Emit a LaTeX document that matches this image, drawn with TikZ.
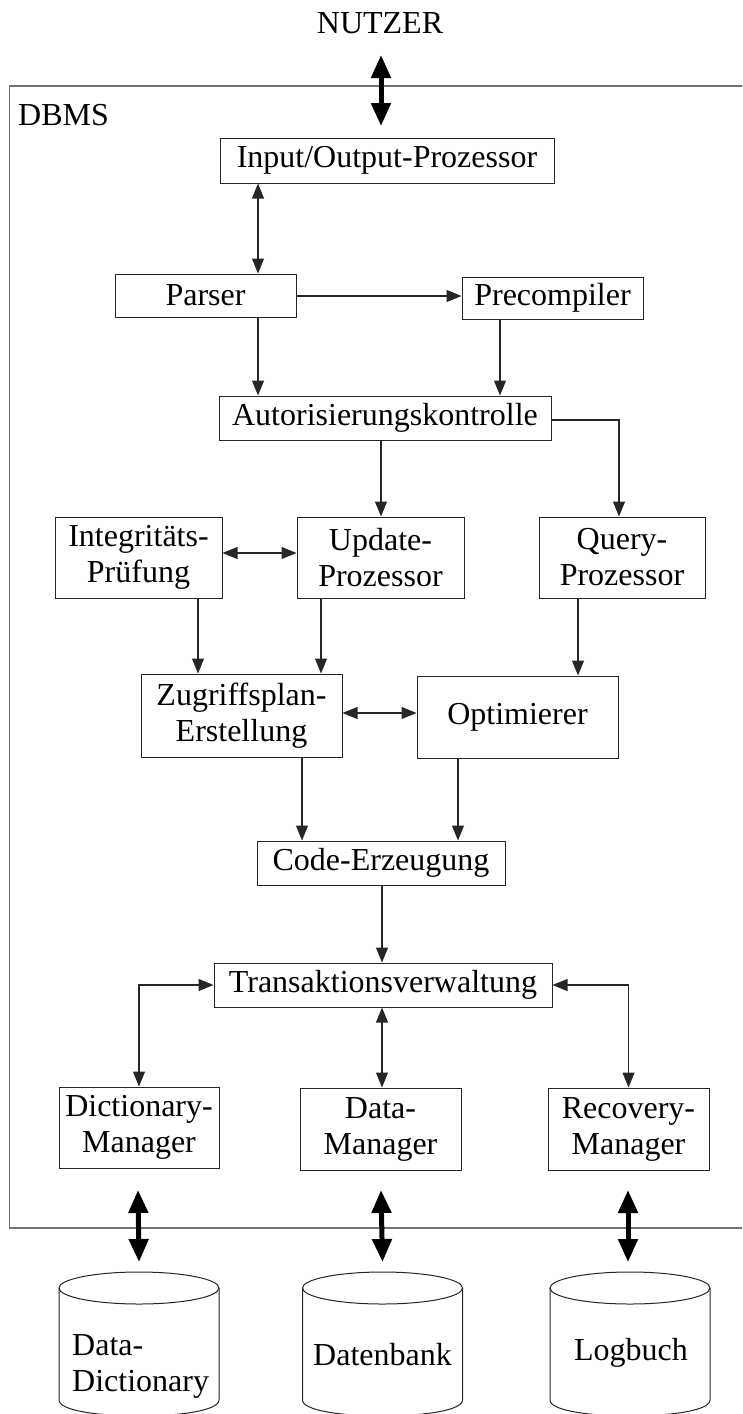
\documentclass[tikz,border=0pt]{standalone}
\usepackage{fontspec}
\setmainfont{Liberation Serif}
\usetikzlibrary{arrows.meta}
\newcommand\dbfsz{\fontsize{32}{36}\selectfont}
\begin{document}
\begin{tikzpicture}[x=1pt,y=-1pt,
  box/.style={draw=black!85,line width=1pt,rectangle,inner sep=0pt,align=center,font=\dbfsz},
  lbl/.style={inner sep=0pt,font=\dbfsz},
  arr/.style={draw=black!85,line width=1.1pt,-{Triangle[length=15pt,width=12pt]}},
  darr/.style={draw=black!85,line width=1.1pt,{Triangle[length=15pt,width=12pt]}-{Triangle[length=15pt,width=12pt]}},
  bigarr/.style={draw=black,line width=5pt,{Triangle[length=23pt,width=19pt]}-{Triangle[length=23pt,width=19pt]}},
  frame/.style={draw=black!55,line width=1.5pt},
  cyl/.style={draw=black!85,line width=1pt}
  ]
\useasboundingbox (0,0) rectangle (742,1414);

% frame
\draw[frame] (742,86) -- (9.5,86) -- (9.5,1228) -- (742,1228);
\node[lbl,anchor=west] (dbms) at (18,115) {DBMS};
\node[lbl] (nutzer) at (380,23) {NUTZER};

% boxes
\node[box,minimum width=334pt,minimum height=45pt] (io) at (387,160.5) {Input/Output-Prozessor};
\node[box,minimum width=181pt,minimum height=43pt] (parser) at (205.5,295.5) {Parser};
\node[box,minimum width=181pt,minimum height=42pt] (pre) at (552.5,298) {Precompiler};
\node[box,minimum width=332pt,minimum height=44pt] (aut) at (385,418) {Autorisierungskontrolle};
\node[box,minimum width=167pt,minimum height=81pt] (integ) at (138.5,557.5) {Integritäts-\\Prüfung};
\node[box,minimum width=167pt,minimum height=81pt] (upd) at (380.5,557.5) {Update-\\Prozessor};
\node[box,minimum width=166pt,minimum height=81pt] (query) at (622,557.5) {Query-\\Prozessor};
\node[box,minimum width=201pt,minimum height=83pt] (zug) at (241.5,715.5) {Zugriffsplan-\\Erstellung};
\node[box,minimum width=201pt,minimum height=82pt] (opt) at (517.5,717) {Optimierer};
\node[box,minimum width=248pt,minimum height=44pt] (code) at (381,863) {Code-Erzeugung};
\node[box,minimum width=338pt,minimum height=44pt] (trans) at (383,985) {Transaktionsverwaltung};
\node[box,minimum width=160pt,minimum height=81pt] (dict) at (139,1127.5) {Dictionary-\\Manager};
\node[box,minimum width=161pt,minimum height=82pt] (datam) at (380.5,1129) {Data-\\Manager};
\node[box,minimum width=161pt,minimum height=82pt] (rec) at (628.5,1129) {Recovery-\\Manager};

% cylinders
\foreach \cx/\nm in {139/cA,382.5/cB,630/cC}{
  \draw[cyl] (\cx,1288) ellipse [x radius=80, y radius=16];
  \draw[cyl] (\cx-80,1288) -- (\cx-80,1400)
     .. controls (\cx-80,1421.3) and (\cx+80,1421.3) .. (\cx+80,1400) -- (\cx+80,1288);
  \coordinate (\nm) at (\cx,1262);
}
\node[lbl,anchor=west,align=left] (ddict) at (72,1366) {Data-\\Dictionary};
\node[lbl] (dbank) at (382.5,1355) {Datenbank};
\node[lbl] (logb) at (631,1353) {Logbuch};

% thick arrows
\coordinate (nuA) at (381,55);
\coordinate (nuB) at (381,126);
\draw[bigarr] (nuA) -- (nuB);
\coordinate (dA) at (138,1190);
\coordinate (mA) at (381,1190);
\coordinate (rA) at (628,1190);
\draw[bigarr] (dA) -- (cA);
\draw[bigarr] (mA) -- (cB |- cA);
\draw[bigarr] (rA) -- (628,1262);

% connectors
\draw[darr] (258,0 |- io.south) -- (258,0 |- parser.north);
\draw[arr] (parser.east |- 0,296) -- (pre.west |- 0,296);
\draw[arr] (258,0 |- parser.south) -- (258,0 |- aut.north);
\draw[arr] (500,0 |- pre.south) -- (500,0 |- aut.north);
\draw[arr] (381,0 |- aut.south) -- (381,0 |- upd.north);
\draw[arr] (aut.east |- 0,420) -| (619,0 |- query.north);
\draw[darr] (integ.east |- 0,553) -- (upd.west |- 0,553);
\draw[arr] (198,0 |- integ.south) -- (198,0 |- zug.north);
\draw[arr] (321,0 |- upd.south) -- (321,0 |- zug.north);
\draw[arr] (578,0 |- query.south) -- (578,0 |- opt.north);
\draw[darr] (zug.east |- 0,713) -- (opt.west |- 0,713);
\draw[arr] (302,0 |- zug.south) -- (302,0 |- code.north);
\draw[arr] (458,0 |- opt.south) -- (458,0 |- code.north);
\draw[arr] (382,0 |- code.south) -- (382,0 |- trans.north);
\draw[darr] (trans.west) -| (dict.north);
\draw[darr] (382,0 |- trans.south) -- (382,0 |- datam.north);
\draw[darr] (trans.east) -| (rec.north);
\end{tikzpicture}
\end{document}
